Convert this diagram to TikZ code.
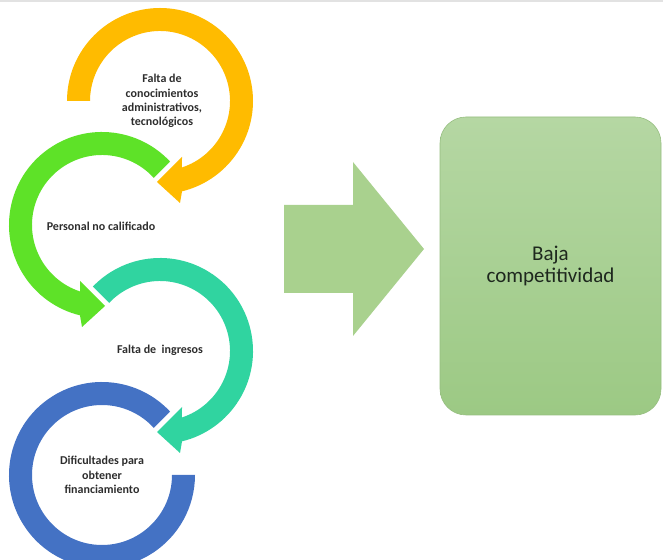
\documentclass[tikz,border=0pt]{standalone}
\usepackage{fontspec}
\setmainfont{Carlito}
\begin{document}
\begin{tikzpicture}[x=1pt,y=1pt,
  ringtext/.style={text=txtgray, align=center, font=\fontsize{12}{14.3}\selectfont\bfseries, inner sep=0pt},
  cutline/.style={draw=white, line width=10pt, line join=miter}]
\definecolor{ringorange}{RGB}{255,187,0}
\definecolor{ringgreen}{RGB}{94,226,40}
\definecolor{ringteal}{RGB}{48,212,160}
\definecolor{ringblue}{RGB}{68,114,196}
\definecolor{bigarrow}{RGB}{169,209,142}
\definecolor{boxtop}{RGB}{181,215,163}
\definecolor{boxbottom}{RGB}{156,201,132}
\definecolor{boxline}{RGB}{150,190,128}
\definecolor{txtgray}{RGB}{45,45,45}
\definecolor{boxtext}{RGB}{30,40,30}
\definecolor{topline}{RGB}{226,226,226}

\useasboundingbox (0,0) rectangle (663,559);
\draw[topline, line width=2pt] (0,558) -- (663,558);

% ring centres
\coordinate (co) at (160,458);
\coordinate (cg) at (102,334);
\coordinate (ct) at (160,208);
\coordinate (cb) at (102,84);

% blue ring (no arrow head)
\fill[ringblue] ([shift={(32:93)}]cb) arc[start angle=32, end angle=360, radius=93]
  -- ([shift={(0:70)}]cb) arc[start angle=360, end angle=32, radius=70] -- cycle;

% teal ring, clockwise with head
\def\tealpath{([shift={(148:93)}]ct) arc[start angle=148, end angle=-76.3, radius=93]
  -- ([shift={(20,-102)}]ct) -- ([shift={(-3,-81)}]ct) -- ([shift={(22,-56)}]ct)
  -- ([shift={(-71.7:70)}]ct) arc[start angle=-71.7, end angle=148, radius=70] -- cycle}
\path[cutline] \tealpath;
\fill[ringteal] \tealpath;

% green ring, counter-clockwise with head
\def\greenpath{([shift={(32:93)}]cg) arc[start angle=32, end angle=256.3, radius=93]
  -- ([shift={(-20,-102)}]cg) -- ([shift={(3,-81)}]cg) -- ([shift={(-22,-56)}]cg)
  -- ([shift={(251.7:70)}]cg) arc[start angle=251.7, end angle=32, radius=70] -- cycle}
\path[cutline] \greenpath;
\fill[ringgreen] \greenpath;

% orange ring, clockwise with head
\def\orangepath{([shift={(180:93)}]co) arc[start angle=180, end angle=-76.3, radius=93]
  -- ([shift={(20,-102)}]co) -- ([shift={(-3,-81)}]co) -- ([shift={(22,-56)}]co)
  -- ([shift={(-71.7:70)}]co) arc[start angle=-71.7, end angle=180, radius=70] -- cycle}
\path[cutline] \orangepath;
\fill[ringorange] \orangepath;

% labels inside the rings
\node[ringtext] (lo) at (162,458) {Falta de\\conocimientos\\administrativos,\\tecnológicos};
\node[ringtext] (lg) at (101,333) {Personal no calificado};
\node[ringtext] (lt) at (160,209) {Falta de \ ingresos};
\node[ringtext] (lb) at (102,84) {Dificultades para\\obtener\\financiamiento};

% result box
\node[draw=boxline, line width=0.6pt, top color=boxtop, bottom color=boxbottom,
      rounded corners=26pt, minimum width=221pt, minimum height=298pt,
      text=boxtext, align=center, font=\fontsize{21}{21.5}\selectfont]
      (box) at (550.5,293) {Baja\\competitividad};

% block arrow towards the box
\fill[bigarrow] (284,354) -- (353,354) -- (353,397) -- (424,310)
  -- (353,223) -- (353,266) -- (284,266) -- cycle;
\end{tikzpicture}
\end{document}
